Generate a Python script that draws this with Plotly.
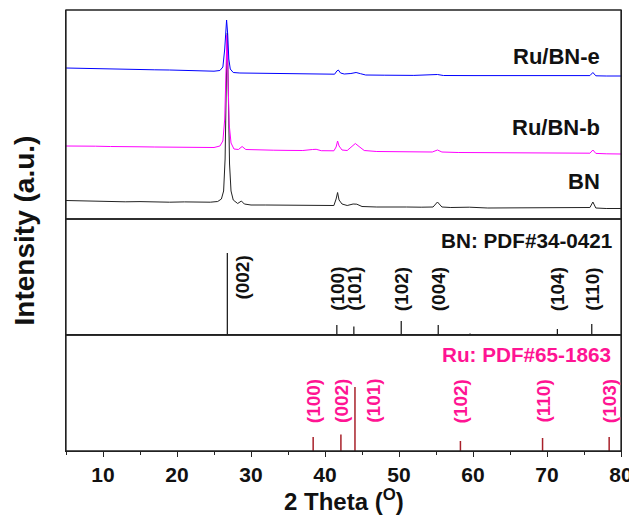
import plotly.graph_objects as go

# ---------------- data ----------------
# BN pattern (x in degrees 2-theta, relative intensity)
bn_x = [5.0, 6.0, 7.5, 9.0, 11.0, 13.0, 15.0, 17.0, 19.0, 21.0, 23.0, 24.5, 25.5, 26.0, 26.3, 26.5, 26.65, 26.8,
        26.95, 27.1, 27.3, 27.6, 28.2, 28.7, 29.1, 30.0, 32.0, 34.0, 36.0, 38.0, 40.0, 41.2, 41.5, 41.7, 41.9,
        42.3, 43.0, 43.8, 44.3, 45.0, 47.0, 49.0, 50.3, 51.0, 53.0, 54.6, 55.2, 55.8, 57.0, 59.5, 62.0, 65.0,
        68.0, 71.5, 74.0, 75.8, 76.2, 76.6, 78.0, 80.0]
bn_y = [18.5, 18.3, 18.6, 17.8, 17.5, 17.2, 17.4, 17.0, 16.8, 17.1, 16.7, 16.8, 17.5, 20.0, 28.0, 60.0, 130.0, 186.0,
        120.0, 55.0, 28.0, 19.0, 15.5, 18.0, 15.0, 14.0, 14.0, 13.8, 13.6, 13.5, 13.3, 13.5, 20.0, 26.5, 19.0,
        15.0, 13.5, 15.0, 14.8, 12.5, 12.0, 12.0, 12.6, 12.0, 11.8, 12.0, 17.0, 12.0, 11.5, 11.8, 11.0, 11.0,
        11.0, 11.5, 10.8, 11.5, 17.0, 11.0, 10.5, 10.5]

rub_x = [5.0, 7.0, 9.0, 11.0, 13.0, 15.0, 17.0, 19.0, 21.0, 23.0, 25.0, 25.8, 26.2, 26.45, 26.6, 26.75, 26.9,
         27.05, 27.3, 27.7, 28.3, 28.8, 29.3, 31.0, 33.0, 35.0, 37.0, 38.3, 38.8, 39.5, 41.2, 41.5, 41.7, 41.9,
         42.3, 43.0, 43.6, 44.1, 44.6, 45.3, 47.0, 50.0, 52.0, 54.5, 55.2, 55.8, 58.0, 62.0, 66.0, 70.0, 73.0,
         75.8, 76.2, 76.6, 78.0, 80.0]
rub_y = [73.0, 73.2, 72.8, 72.5, 72.6, 72.2, 72.0, 71.8, 71.6, 71.4, 71.5, 73.0, 78.0, 100.0, 150.0, 184.0, 140.0,
         95.0, 76.0, 70.0, 69.5, 72.5, 69.5, 69.0, 68.8, 68.6, 68.5, 69.5, 69.7, 68.3, 68.2, 72.0, 78.0, 73.0,
         69.0, 68.5, 72.0, 75.5, 72.5, 68.5, 67.5, 67.3, 67.0, 67.0, 69.0, 67.0, 66.5, 66.3, 66.0, 65.8, 65.6,
         65.8, 69.0, 65.6, 65.2, 65.0]

rue_x = [5.0, 7.0, 9.0, 11.0, 13.0, 15.0, 17.0, 19.0, 21.0, 23.0, 25.0, 25.8, 26.2, 26.45, 26.6, 26.7, 26.85,
         27.0, 27.2, 27.6, 28.5, 30.0, 32.0, 35.0, 38.0, 39.5, 41.3, 41.6, 41.8, 42.1, 42.6, 43.5, 44.2, 44.8,
         45.5, 48.0, 52.0, 55.2, 56.0, 60.0, 65.0, 70.0, 74.0, 75.8, 76.2, 76.6, 78.0, 80.0]
rue_y = [151.0, 150.6, 150.2, 150.0, 149.7, 149.4, 149.2, 149.0, 148.6, 148.2, 147.8, 148.5, 152.0, 170.0, 190.0,
         199.0, 185.0, 160.0, 150.0, 146.5, 146.0, 145.8, 145.6, 145.2, 145.0, 144.8, 144.8, 148.0, 149.0, 146.0,
         145.0, 145.5, 146.5, 145.3, 144.0, 143.8, 143.6, 144.5, 143.5, 143.4, 143.3, 143.2, 143.1, 143.4, 146.5,
         143.2, 143.0, 143.0]

# BN reference PDF#34-0421
bn_ref_pos = [26.8, 41.6, 43.9, 50.3, 55.3, 59.6, 71.4, 76.05]
bn_ref_int = [82, 10, 8.5, 14, 10, 1.5, 6, 11]
bn_ref_hkl = ["(002)", "(100)", "(101)", "(102)", "(004)", "", "(104)", "(110)"]

# Ru reference PDF#65-1863
ru_ref_pos = [38.4, 42.15, 44.05, 58.3, 69.4, 78.4]
ru_ref_int = [14, 16.5, 64, 10, 13, 14]
ru_ref_hkl = ["(100)", "(002)", "(101)", "(102)", "(110)", "(103)"]

x_ticks = [10, 20, 30, 40, 50, 60, 70, 80]

# ---------------- figure ----------------
fig = go.Figure()

fig.add_trace(go.Scatter(x=bn_x, y=bn_y, mode="lines", line=dict(color="#222222", width=1),
                         xaxis="x", yaxis="y3", showlegend=False))
fig.add_trace(go.Scatter(x=rub_x, y=rub_y, mode="lines", line=dict(color="#FF00FF", width=1),
                         xaxis="x", yaxis="y3", showlegend=False))
fig.add_trace(go.Scatter(x=rue_x, y=rue_y, mode="lines", line=dict(color="#0000FF", width=1),
                         xaxis="x", yaxis="y3", showlegend=False))

def sticks(pos, inten):
    xs, ys = [], []
    for p, h in zip(pos, inten):
        xs += [p, p, None]
        ys += [0, h, None]
    return xs, ys

sx, sy = sticks(bn_ref_pos, bn_ref_int)
fig.add_trace(go.Scatter(x=sx, y=sy, mode="lines", line=dict(color="#111111", width=1.2),
                         xaxis="x", yaxis="y2", showlegend=False))
sx, sy = sticks(ru_ref_pos, ru_ref_int)
fig.add_trace(go.Scatter(x=sx, y=sy, mode="lines", line=dict(color="#A8202A", width=1.5),
                         xaxis="x", yaxis="y", showlegend=False))

FONT = "Liberation Sans, Arial, sans-serif"
PINK = "#FF1493"
ann = []

# sample labels
for txt, yv in [("Ru/BN-e", 163), ("Ru/BN-b", 92), ("BN", 38)]:
    ann.append(dict(x=77.4, y=yv, xref="x", yref="y3", text=txt, showarrow=False, xanchor="right",
                    yanchor="middle", font=dict(family=FONT, size=22, color="#111111", weight="bold")))

ann.append(dict(x=79.1, y=95, xref="x", yref="y2", text="BN: PDF#34-0421", showarrow=False, xanchor="right",
                yanchor="middle", font=dict(family=FONT, size=20.7, color="#111111", weight="bold")))
ann.append(dict(x=78.9, y=97, xref="x", yref="y", text="Ru: PDF#65-1863", showarrow=False, xanchor="right",
                yanchor="middle", font=dict(family=FONT, size=20.7, color=PINK, weight="bold")))

for p, h, t in zip(bn_ref_pos, bn_ref_int, bn_ref_hkl):
    if not t:
        continue
    xp, yp = p, 46
    if t == "(002)":
        xp, yp = p + 2.0, 57.5
    ann.append(dict(x=xp, y=yp, xref="x", yref="y2", text=t, showarrow=False, textangle=-90,
                    xanchor="center", yanchor="middle",
                    font=dict(family=FONT, size=19, color="#111111", weight="bold")))

for p, h, t in zip(ru_ref_pos, ru_ref_int, ru_ref_hkl):
    xp = p
    if t == "(101)":
        xp = p + 2.4
    ann.append(dict(x=xp, y=50, xref="x", yref="y", text=t, showarrow=False, textangle=-90,
                    xanchor="center", yanchor="middle",
                    font=dict(family=FONT, size=19, color=PINK, weight="bold")))

ann.append(dict(x=-0.074, y=0.5, xref="paper", yref="paper", text="Intensity (a.u.)", showarrow=False,
                textangle=-90, xanchor="center", yanchor="middle",
                font=dict(family=FONT, size=28, color="#111111", weight="bold")))
ann.append(dict(x=0.5, y=-0.11, xref="paper", yref="paper", text="2 Theta (<sup>O</sup>)", showarrow=False,
                xanchor="center", yanchor="middle",
                font=dict(family=FONT, size=24, color="#111111", weight="bold")))

axis_common = dict(showline=True, linecolor="#222222", linewidth=1.3, mirror=True, showgrid=False,
                   zeroline=False)

d1 = 116 / 441
d2 = 232 / 441

# the page body adds an 8px offset, so the figure is sized 8px smaller
fig.update_layout(
    width=629, height=518,
    margin=dict(l=58, r=16, t=2, b=75),
    paper_bgcolor="white", plot_bgcolor="white",
    showlegend=False,
    annotations=ann,
    xaxis=dict(range=[5, 80], domain=[0, 1], anchor="y", tickvals=x_ticks, ticks="outside", ticklen=5,
               tickwidth=1.2, tickcolor="#222222",
               minor=dict(dtick=5, tick0=5, ticks="outside", ticklen=3, tickwidth=1.2, tickcolor="#222222"),
               tickfont=dict(family=FONT, size=21, color="#111111", weight="bold"), **axis_common),
    yaxis=dict(domain=[0, d1], range=[0, 116], showticklabels=False, ticks="", **axis_common),
    yaxis2=dict(domain=[d1, d2], range=[0, 116], showticklabels=False, ticks="", **axis_common),
    yaxis3=dict(domain=[d2, 1], range=[0, 209], showticklabels=False, ticks="", **axis_common),
)

for y0, y1 in [(0, d1), (d1, d2), (d2, 1)]:
    fig.add_shape(type="rect", xref="paper", yref="paper", x0=0, x1=1, y0=y0, y1=y1,
                  line=dict(color="#222222", width=1.3), fillcolor="rgba(0,0,0,0)")

fig.write_html("out.html")
